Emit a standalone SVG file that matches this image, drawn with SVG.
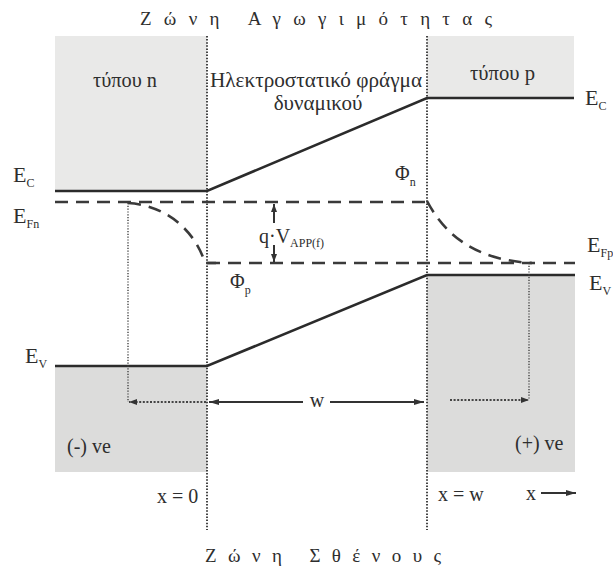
<svg xmlns="http://www.w3.org/2000/svg" width="613" height="572" viewBox="0 0 613 572">
<style>
text{font-family:"Liberation Serif","Times New Roman",serif;fill:#2e2e2e}
.t{font-size:20px}
.big{font-size:22px}
.sub{font-size:12px}
.title{font-size:19px}
.band{fill:none;stroke:#2b2b2b;stroke-width:2.6}
.dash{fill:none;stroke:#3a3a3a;stroke-width:2.6;stroke-dasharray:13 8}
.vdot{fill:none;stroke:#444;stroke-width:2;stroke-dasharray:1.5 1.6}
.dot{fill:none;stroke:#444;stroke-width:1.4;stroke-dasharray:1.2 1.6}
.hdot{fill:none;stroke:#444;stroke-width:2;stroke-dasharray:2 1.6}
.arr{fill:none;stroke:#333;stroke-width:2}
.topfill{fill:#e9e9e8}
.botfill{fill:#dcdcdb}
</style>
<defs>
<marker id="ah" viewBox="0 0 10 6" refX="10" refY="3" markerWidth="10" markerHeight="6" markerUnits="userSpaceOnUse" orient="auto-start-reverse">
<path d="M0,0 L10,3 L0,6 z" fill="#333"/>
</marker>
<marker id="ahs" viewBox="0 0 8 6" refX="8" refY="3" markerWidth="8" markerHeight="6" markerUnits="userSpaceOnUse" orient="auto-start-reverse">
<path d="M0,0 L8,3 L0,6 z" fill="#333"/>
</marker>
</defs>

<text class="title" x="140" y="25" textLength="352" lengthAdjust="spacing" xml:space="preserve">Ζ ώ ν η   Α γ ω γ ι μ ό τ η τ α ς</text>

<g id="n-region">
<rect class="topfill" x="55" y="36" width="152" height="155"/>
<rect class="botfill" x="55" y="366" width="152" height="106"/>
<text class="t" x="93" y="87" textLength="64" lengthAdjust="spacingAndGlyphs">τύπου n</text>
<text class="t" x="67" y="453">(-) ve</text>
</g>

<g id="p-region">
<rect class="topfill" x="427" y="36" width="147" height="62"/>
<rect class="botfill" x="427" y="275" width="148" height="197"/>
<text class="t" x="470" y="80" textLength="65" lengthAdjust="spacingAndGlyphs">τύπου p</text>
<text class="t" x="515" y="450">(+) ve</text>
</g>

<g id="barrier">
<text x="210" y="87" style="font-size:21px" textLength="212" lengthAdjust="spacingAndGlyphs">Ηλεκτροστατικό φράγμα</text>
<text x="318" y="110" style="font-size:21px" text-anchor="middle">δυναμικού</text>
</g>

<g id="junction-lines">
<line class="vdot" x1="207" y1="36" x2="207" y2="530"/>
<line class="vdot" x1="427" y1="36" x2="427" y2="530"/>
</g>

<g id="band-Ec">
<path class="band" d="M55 191 H207 L427 98 H574"/>
<text class="big" x="13" y="182">E<tspan class="sub" dy="5">C</tspan></text>
<text class="big" x="585" y="105">E<tspan class="sub" dy="5">C</tspan></text>
</g>

<g id="band-Ev">
<path class="band" d="M55 366 H207 L427 275 H575"/>
<text class="big" x="25" y="363">E<tspan class="sub" dy="5">V</tspan></text>
<text class="big" x="589" y="290">E<tspan class="sub" dy="5">V</tspan></text>
</g>

<g id="fermi-n">
<line class="dash" x1="55" y1="202" x2="427" y2="202"/>
<path class="dash" d="M128 203 C165 205 195 230 205 263 H216"/>
<text class="big" x="13" y="223">E<tspan class="sub" dy="5">Fn</tspan></text>
<text class="t" x="395" y="180">Φ<tspan class="sub" dy="6">n</tspan></text>
</g>

<g id="fermi-p">
<line class="dash" x1="207" y1="263" x2="575" y2="263"/>
<path class="dash" d="M427 201 C445 235 475 260 532 263"/>
<text class="big" x="587" y="252">E<tspan class="sub" dy="5">Fp</tspan></text>
<text class="t" x="230" y="288">Φ<tspan class="sub" dy="6">p</tspan></text>
</g>

<g id="voltage">
<text class="t" x="259" y="243">q·V<tspan class="sub" dy="4">APP(f)</tspan></text>
</g>

<g id="connectors">
<line class="arr" x1="274" y1="223" x2="274" y2="204" marker-end="url(#ahs)"/>
<line class="arr" x1="274" y1="245" x2="274" y2="262" marker-end="url(#ahs)"/>
<line class="dot" x1="128" y1="203" x2="128" y2="402"/>
<line class="hdot" x1="206" y1="402" x2="129" y2="402" marker-end="url(#ahs)"/>
<line class="dot" x1="529" y1="263" x2="529" y2="400"/>
<line class="hdot" x1="450" y1="400" x2="529" y2="400" marker-end="url(#ahs)"/>
<line class="arr" x1="303" y1="402" x2="209" y2="402" marker-end="url(#ah)"/>
<line class="arr" x1="330" y1="402" x2="424" y2="402" marker-end="url(#ah)"/>
<text class="t" x="317" y="407" text-anchor="middle">w</text>
<line class="arr" x1="541" y1="493" x2="576" y2="493" marker-end="url(#ah)"/>
</g>

<g id="axis-labels">
<text class="t" x="157" y="503">x = 0</text>
<text class="t" x="438" y="501">x = w</text>
<text class="t" x="526" y="500">x</text>
</g>

<text class="title" x="205" y="562" textLength="236" lengthAdjust="spacing" xml:space="preserve">Ζ ώ ν η   Σ θ έ ν ο υ ς</text>
</svg>
